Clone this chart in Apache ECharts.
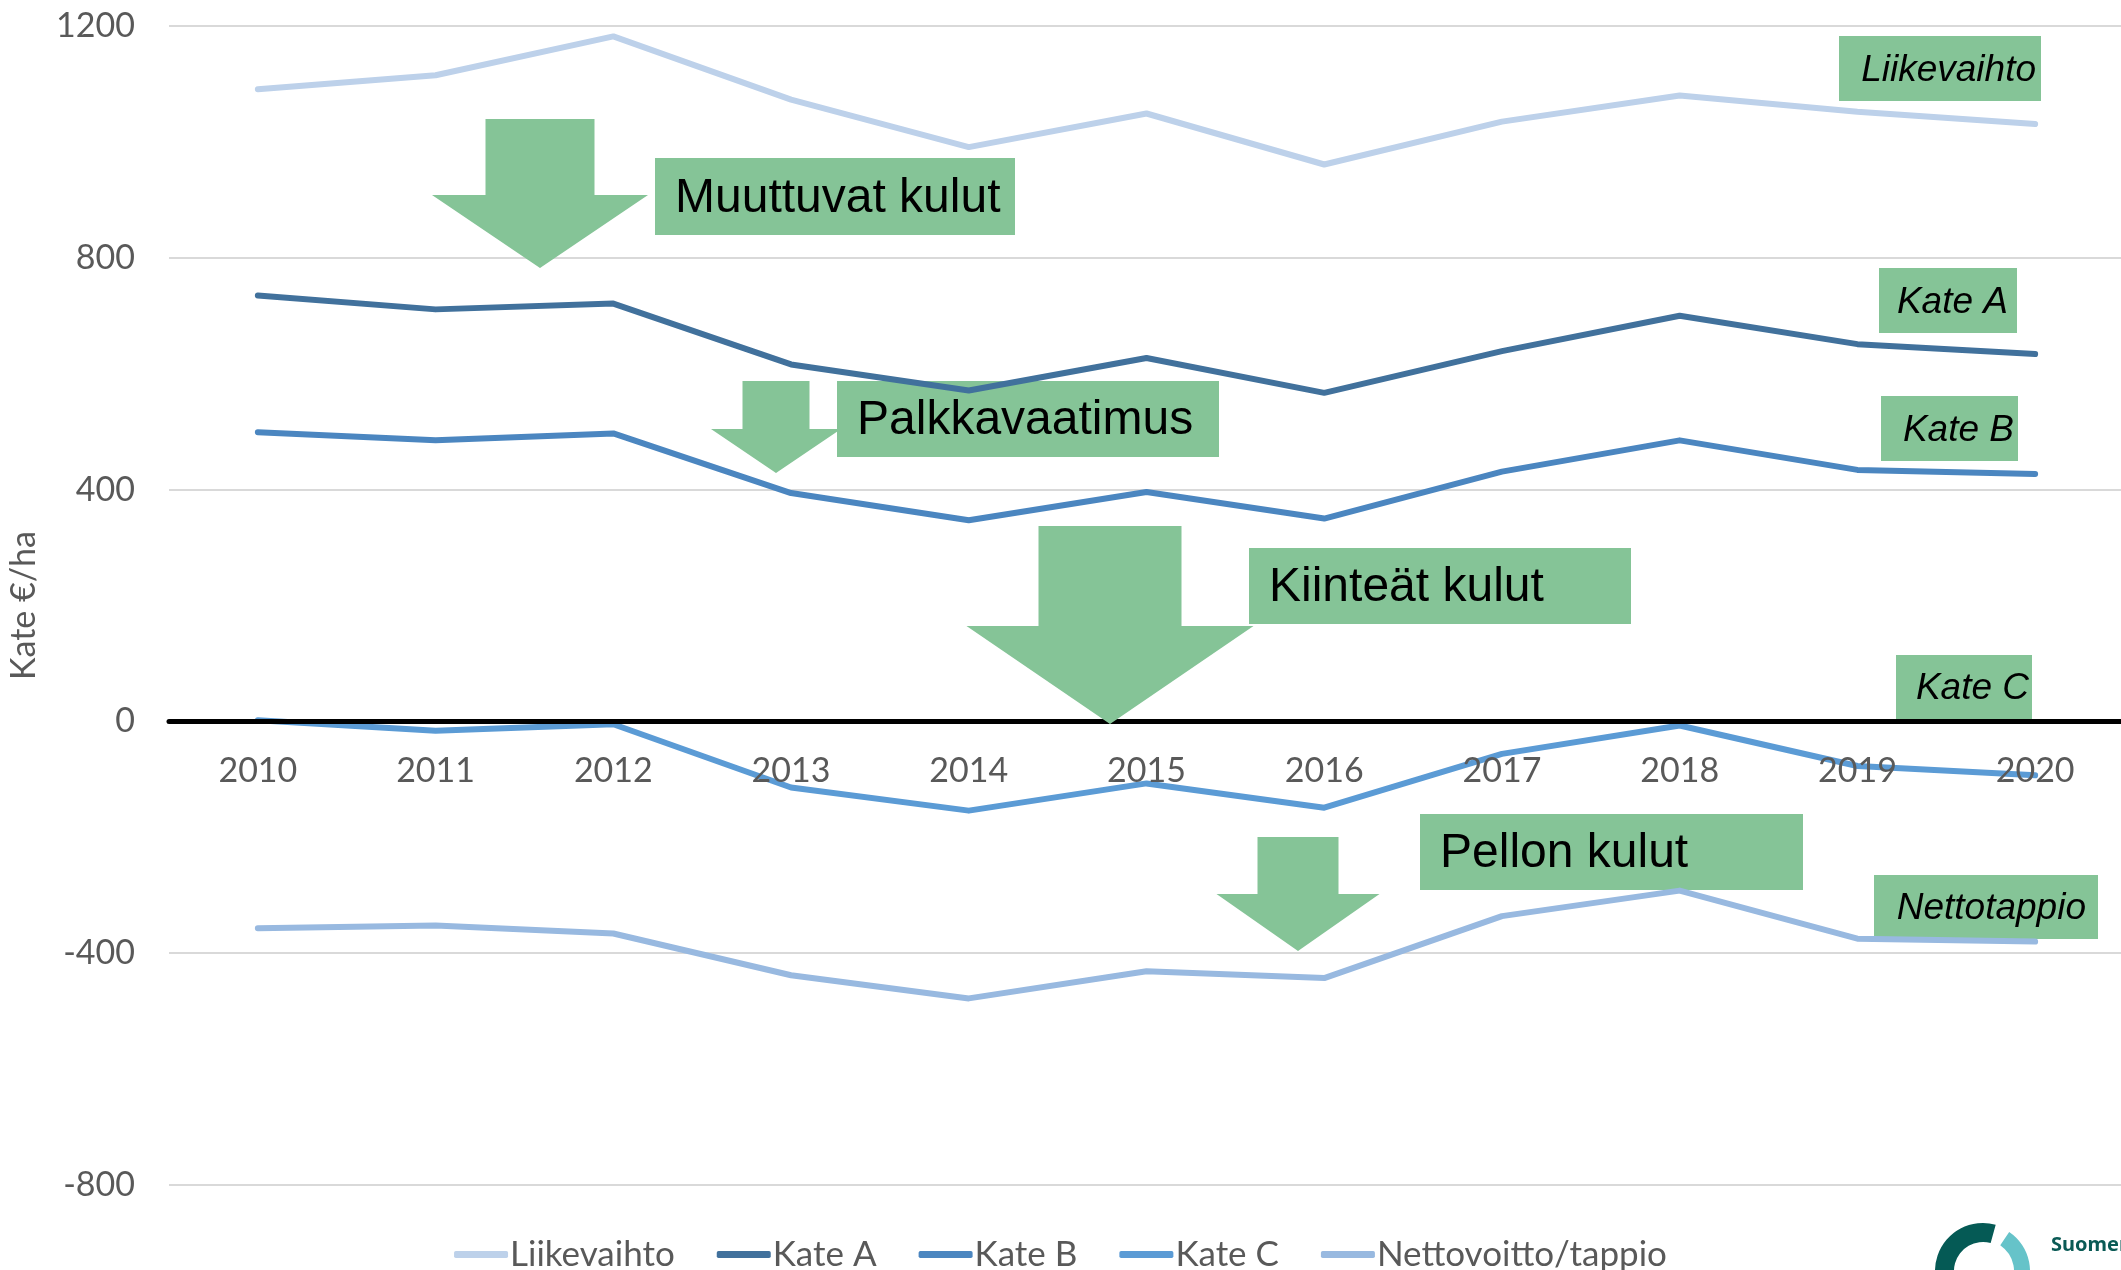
<!DOCTYPE html>
<html>
<head>
<meta charset="utf-8">
<script src="https://cdn.jsdelivr.net/npm/echarts@6/dist/echarts.min.js"></script>
<style>
    html, body { margin: 0; padding: 0; background: #fff; }
    #chart { width: 2121px; height: 1270px; }
</style>
</head>
<body>
<div id="chart"></div>
<script>
var years = ['2010', '2011', '2012', '2013', '2014', '2015', '2016', '2017', '2018', '2019', '2020'];
var seriesNames = ['Liikevaihto', 'Kate A', 'Kate B', 'Kate C', 'Nettovoitto/tappio'];
var liikevaihto = [1091, 1115, 1182, 1073, 991, 1049, 961, 1035, 1080, 1052, 1031];
var kateA = [735, 711, 721, 616, 571, 627, 567, 639, 700, 651, 634];
var kateB = [499, 485, 497, 394, 347, 396, 350, 431, 485, 434, 427];
var kateC = [2, -16, -5, -114, -154, -107, -149, -56, -7, -77, -93];
var netto = [-357, -352, -366, -438, -478, -431, -443, -336, -292, -375, -380];
var yTicks = { min: -800, max: 1200, step: 400 };
var costLabels = ['Muuttuvat kulut', 'Palkkavaatimus', 'Kiinteät kulut', 'Pellon kulut'];
var tagLabels = ['Liikevaihto', 'Kate A', 'Kate B', 'Kate C', 'Nettotappio'];

var colors = ['#bdd1ea', '#41719c', '#4b86c0', '#5b9bd5', '#98b9e0'];
var green = '#85c497';
var axisFont = 'Lato, "Open Sans", sans-serif';

var chart = echarts.init(document.getElementById('chart'));

// block arrow pointing down: stem box + head triangle
function arrow(cx, top, stemW, stemBottom, headW, tip) {
    var s = stemW / 2, h = headW / 2;
    return {
        type: 'polygon',
        z: 50,
        shape: { points: [
            [cx - s, top], [cx + s, top], [cx + s, stemBottom], [cx + h, stemBottom],
            [cx, tip], [cx - h, stemBottom], [cx - s, stemBottom]
        ] },
        style: { fill: green }
    };
}

function costBox(text, x, y, w, h) {
    return {
        type: 'group', z: 51, x: x, y: y,
        children: [
            { type: 'rect', shape: { width: w, height: h }, style: { fill: green } },
            { type: 'text', x: 20, y: h / 2 + 2, style: {
                text: text, fill: '#000', font: '48px "Liberation Sans", Arial, sans-serif',
                verticalAlign: 'middle'
            } }
        ]
    };
}

function tag(text, x, y, w, h, pad) {
    return {
        type: 'group', z: 52, x: x, y: y,
        children: [
            { type: 'rect', shape: { width: w, height: h }, style: { fill: green } },
            { type: 'text', x: w - pad, y: h / 2 + 2, style: {
                text: text, fill: '#000', font: 'italic 37px "Liberation Sans", Arial, sans-serif',
                align: 'right', verticalAlign: 'middle'
            } }
        ]
    };
}

var graphics = [
    arrow(540, 119, 109, 195, 216, 268),
    arrow(776, 381, 67, 429, 130, 473),
    arrow(1110, 526, 143, 626, 287, 724),
    arrow(1298, 837, 81, 894, 163, 951),
    costBox(costLabels[0], 655, 158, 360, 77),
    costBox(costLabels[1], 837, 381, 382, 76),
    costBox(costLabels[2], 1249, 548, 382, 76),
    costBox(costLabels[3], 1420, 814, 383, 76),
    tag(tagLabels[0], 1839, 36, 202, 65, 5),
    tag(tagLabels[1], 1879, 268, 138, 65, 9),
    tag(tagLabels[2], 1881, 396, 137, 65, 4),
    tag(tagLabels[3], 1896, 655, 136, 64, 3),
    tag(tagLabels[4], 1874, 875, 224, 64, 12),
    // logo in the corner
    { type: 'sector', z: 60, shape: { cx: 1983, cy: 1271, r: 48, r0: 29, startAngle: 1.9, endAngle: 4.98 },
      style: { fill: '#055a55' } },
    { type: 'sector', z: 60, shape: { cx: 1983, cy: 1271, r: 47, r0: 31, startAngle: -0.98, endAngle: 0.6 },
      style: { fill: '#66c3c9' } },
    { type: 'text', z: 60, x: 2051, y: 1255, style: {
        text: 'Suomen', fill: '#0a5a55', font: 'bold 20px "Noto Sans", sans-serif', verticalAlign: 'bottom'
    } }
];

function lineSeries(name, data, color) {
    return {
        name: name,
        type: 'line',
        data: data,
        symbol: 'none',
        smooth: false,
        lineStyle: { color: color, width: 6, cap: 'round', join: 'round' },
        itemStyle: { color: color },
        z: 3
    };
}

var option = {
    animation: false,
    backgroundColor: '#fff',
    grid: { left: 169, right: -3, top: 26, bottom: 85, outerBoundsMode: 'none', containLabel: false },
    legend: {
        data: seriesNames,
        left: 'center',
        top: 1232,
        icon: 'roundRect',
        itemWidth: 54,
        itemHeight: 7,
        itemGap: 42,
        textStyle: { color: '#595959', fontSize: 35, fontFamily: axisFont, padding: [0, 0, 0, -3] }
    },
    xAxis: {
        type: 'category',
        data: years,
        boundaryGap: true,
        offset: -464,
        axisTick: { show: false },
        axisLine: { onZero: false, lineStyle: { color: '#000', width: 5 } },
        axisLabel: { color: '#595959', fontSize: 34, fontFamily: axisFont, margin: 33 },
        z: 4
    },
    yAxis: {
        type: 'value',
        min: yTicks.min,
        max: yTicks.max,
        interval: yTicks.step,
        name: 'Kate €/ha',
        nameLocation: 'middle',
        nameGap: 128,
        nameRotate: 90,
        nameTextStyle: { color: '#595959', fontSize: 34, fontFamily: axisFont },
        axisLine: { show: false },
        axisTick: { show: false },
        axisLabel: {
            color: '#595959', fontSize: 34, fontFamily: axisFont, margin: 34,
            formatter: function (v) { return String(v); }
        },
        splitLine: { lineStyle: { color: '#d9d9d9', width: 2 } }
    },
    series: [
        lineSeries(seriesNames[0], liikevaihto, colors[0]),
        lineSeries(seriesNames[1], kateA, colors[1]),
        lineSeries(seriesNames[2], kateB, colors[2]),
        lineSeries(seriesNames[3], kateC, colors[3]),
        lineSeries(seriesNames[4], netto, colors[4])
    ],
    graphic: graphics
};

chart.setOption(option);
</script>
</body>
</html>
